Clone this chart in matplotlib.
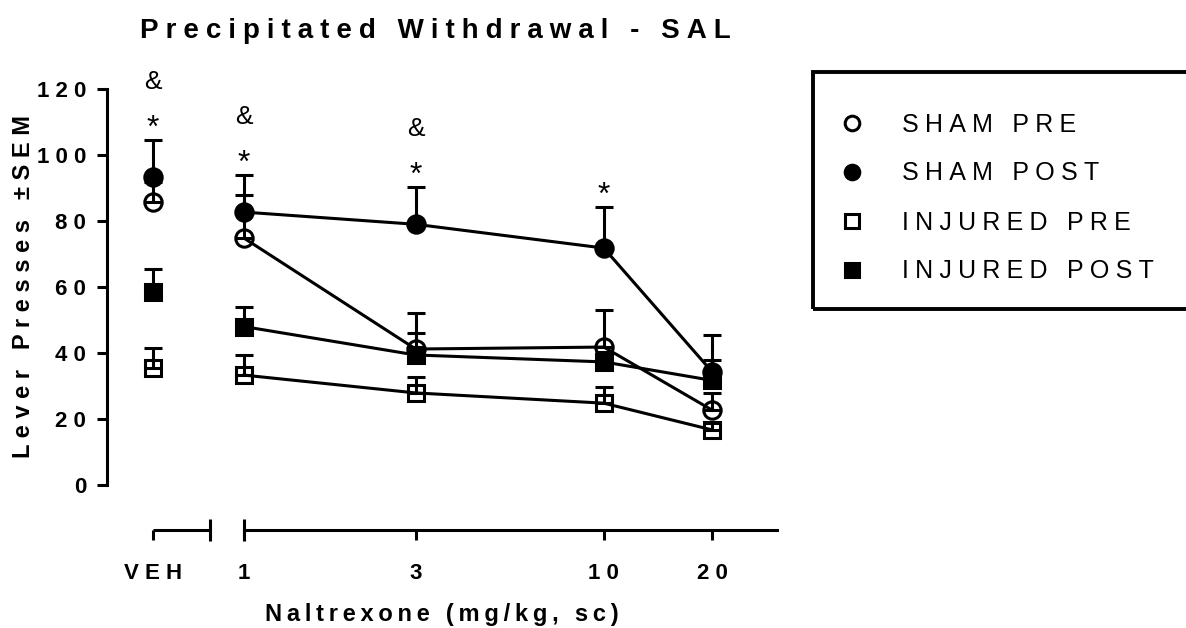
import numpy as np
import matplotlib
matplotlib.use("Agg")
import matplotlib.pyplot as plt
import matplotlib.transforms as mtransforms
from matplotlib.lines import Line2D
from matplotlib.patches import Rectangle
from matplotlib.ticker import NullLocator

plt.rcParams['font.family'] = ['Liberation Sans', 'DejaVu Sans']

# data
doses = [1, 3, 10, 20]
dose_labels = ['1', '3', '10', '20']
groups = ['SHAM PRE', 'SHAM POST', 'INJURED PRE', 'INJURED POST']
markers = ['o', 'o', 's', 's']
filled = [False, True, False, True]

veh_mean = [85.8, 93.3, 35.5, 58.5]
veh_sem = [6.0, 11.2, 6.0, 7.0]

sham_pre_mean = [74.8, 41.2, 41.8, 22.7]
sham_pre_sem = [13.2, 11.0, 11.2, 5.3]
sham_post_mean = [82.7, 79.0, 71.8, 34.3]
sham_post_sem = [11.3, 11.3, 12.5, 11.2]
injured_pre_mean = [33.3, 27.9, 24.8, 16.7]
injured_pre_sem = [6.1, 4.8, 4.9, 2.0]
injured_post_mean = [48.0, 39.4, 37.3, 31.7]
injured_post_sem = [6.0, 6.6, 3.0, 6.3]

dose_means = [sham_pre_mean, sham_post_mean, injured_pre_mean, injured_post_mean]
dose_sems = [sham_pre_sem, sham_post_sem, injured_pre_sem, injured_post_sem]

# significance marks (above SHAM POST)
star_at = ['VEH', 1, 3, 10]
amp_at = ['VEH', 1, 3]

# layout of the broken log axis
VEH_X = 0.559
VEH_END = 0.805
XLIM = (0.416, 30.3)

LW = 2.2
OFFSET = 32.5  # x axis drawn below y=0, in points


def spaced(s, sep='\u2009'):
    return sep.join(s)


fig = plt.figure(figsize=(11.86, 6.28), dpi=100)
ax = fig.add_axes([107 / 1186, 1 - 485 / 628, (777 - 107) / 1186, (485 - 89) / 628])

for i, g in enumerate(groups):
    fc = 'black' if filled[i] else 'none'
    ms = 12.5 if markers[i] == 'o' else 12
    xs = [VEH_X] + doses
    ys = [veh_mean[i]] + dose_means[i]
    es = [veh_sem[i]] + dose_sems[i]
    ax.errorbar(xs, ys, yerr=[np.zeros(len(es)), es], fmt='none', ecolor='black',
                elinewidth=LW, capsize=6.5, capthick=LW, clip_on=False, zorder=2 + i)
    ax.plot(doses, dose_means[i], color='black', lw=LW, marker=markers[i], ms=ms,
            mfc=fc, mec='black', mew=LW, clip_on=False, zorder=2 + i)
    ax.plot([VEH_X], [veh_mean[i]], ls='none', marker=markers[i], ms=ms,
            mfc=fc, mec='black', mew=LW, clip_on=False, zorder=2 + i)

# annotations
for pos in star_at:
    if pos == 'VEH':
        x, top = VEH_X, veh_mean[1] + veh_sem[1]
    else:
        k = doses.index(pos)
        x, top = pos, sham_post_mean[k] + sham_post_sem[k]
    ax.text(x, top - 1.2, '*', ha='center', va='bottom', fontsize=23, clip_on=False)
    if pos in amp_at:
        ax.text(x, top + 17.5, '&', ha='center', va='center', fontsize=19, clip_on=False)

# axes styling
ax.set_xscale('log')
ax.set_xlim(*XLIM)
ax.set_ylim(0, 120)
for s in ['top', 'right']:
    ax.spines[s].set_visible(False)
ax.spines['left'].set_linewidth(LW)
ax.spines['bottom'].set_linewidth(LW)
ax.spines['bottom'].set_position(('outward', OFFSET))
ax.spines['bottom'].set_bounds(1, XLIM[1])

ax.set_yticks(np.arange(0, 121, 20))
ax.set_yticklabels([spaced(str(v), ' ') for v in range(0, 121, 20)],
                   fontsize=16, fontweight='bold')
ax.set_xticks([VEH_X] + doses)
ax.set_xticklabels([spaced('VEH', ' ')] + [spaced(s, ' ') for s in dose_labels],
                   fontsize=16, fontweight='bold')
ax.xaxis.set_minor_locator(NullLocator())
ax.tick_params(axis='both', which='major', direction='out', length=7, width=LW)
ax.tick_params(axis='y', pad=8)
ax.tick_params(axis='x', pad=17)

# VEH segment of the broken x axis, plus the break bars
trans = mtransforms.blended_transform_factory(ax.transData, ax.transAxes) + \
    mtransforms.ScaledTranslation(0, -OFFSET / 72, fig.dpi_scale_trans)
ax.plot([VEH_X, VEH_END], [0, 0], color='black', lw=LW, transform=trans,
        clip_on=False, solid_capstyle='butt')
ax.plot([VEH_END, 1], [0, 0], ls='none', marker='|', ms=16, mew=LW, color='black',
        transform=trans, clip_on=False)

ax.set_xlabel(spaced('Naltrexone (mg/kg, sc)'), fontsize=17, fontweight='bold', labelpad=13)
ax.set_ylabel(spaced('Lever Presses ±SEM', ' '), fontsize=17, fontweight='bold', labelpad=1)
fig.text(435 / 1186, 1 - 31 / 628, spaced('Precipitated Withdrawal - SAL', '\u2005'),
         ha='center', va='center', fontsize=20, fontweight='bold')

# legend
handles = [Line2D([], [], ls='none', marker=markers[i],
                  ms=10.5 if markers[i] == 'o' else 10,
                  mfc='black' if filled[i] else 'none', mec='black', mew=LW)
           for i in range(len(groups))]
leg = fig.legend(handles, [spaced(g, '\u2005') for g in groups], loc='upper left',
                 bbox_to_anchor=(811 / 1186, 1 - 90 / 628), frameon=False,
                 fontsize=18, handletextpad=1.25, labelspacing=1.0, handlelength=1.5)
fig.patches.append(Rectangle((813 / 1186, 1 - 309 / 628), 400 / 1186, 237 / 628,
                             transform=fig.transFigure, fill=False, lw=LW + 0.6,
                             edgecolor='black', clip_on=False))

fig.savefig('out.png', dpi=100)
